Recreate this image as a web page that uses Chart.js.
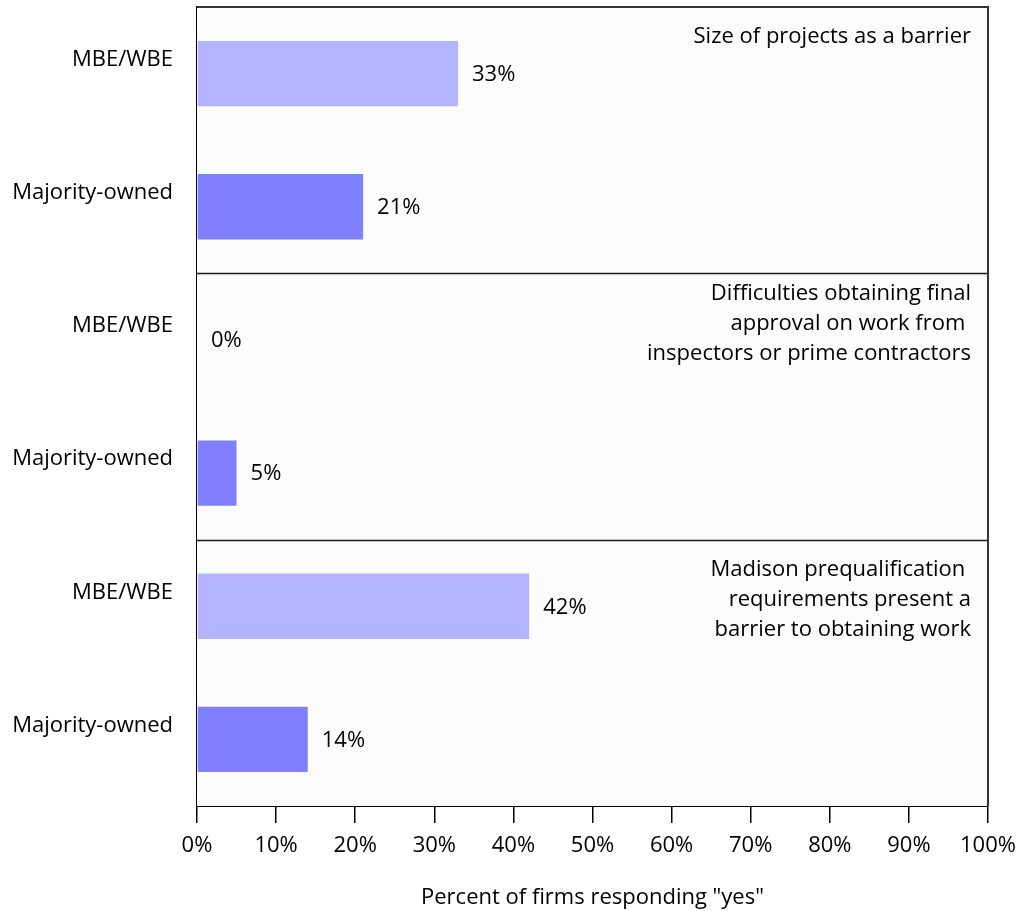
<!DOCTYPE html>
<html>
<head>
<meta charset="utf-8">
<script src="https://cdn.jsdelivr.net/npm/chart.js@4"></script>
<style>
  html, body { margin: 0; padding: 0; background: #ffffff; }
  #wrap { width: 1022px; height: 911px; }
</style>
</head>
<body>
<div id="wrap"><canvas id="c" width="1022" height="911"></canvas></div>
<script>
// Survey responses: share of firms answering "yes", by barrier and firm ownership
const categories = ['MBE/WBE', 'Majority-owned', 'MBE/WBE', 'Majority-owned', 'MBE/WBE', 'Majority-owned'];
const values = [33, 21, 0, 5, 42, 14];
const panelTitles = [
  ['Size of projects as a barrier'],
  ['Difficulties obtaining final', 'approval on work from ', 'inspectors or prime contractors'],
  ['Madison prequalification ', 'requirements present a', 'barrier to obtaining work']
];
const xTicks = [0, 10, 20, 30, 40, 50, 60, 70, 80, 90, 100];
const axisTitle = 'Percent of firms responding "yes"';

const FONT = '"Open Sans", Lato, sans-serif';
const FSIZE = 22;
const barColors = categories.map(c => c === 'MBE/WBE' ? '#b3b3ff' : '#8080ff');

// Fills the plot area, draws panel dividers, frame, value labels and panel titles
const panelPlugin = {
  id: 'panels',
  beforeDatasetsDraw(chart) {
    const { ctx, chartArea: a } = chart;
    ctx.save();
    ctx.fillStyle = '#fcfcfc';
    ctx.fillRect(a.left, a.top, a.right - a.left, a.bottom - a.top);
    ctx.restore();
  },
  afterDatasetsDraw(chart) {
    const { ctx, chartArea: a } = chart;
    const y = chart.scales.y;
    ctx.save();
    // dividers between the three question panels
    ctx.strokeStyle = '#1a1a1a';
    ctx.lineWidth = 1.5;
    [2, 4].forEach(i => {
      const py = Math.round((y.getPixelForValue(i - 1) + y.getPixelForValue(i)) / 2) + 0.5;
      ctx.beginPath();
      ctx.moveTo(a.left, py);
      ctx.lineTo(a.right, py);
      ctx.stroke();
    });
    // top and right frame
    ctx.strokeStyle = '#333333';
    ctx.lineWidth = 2;
    ctx.beginPath();
    ctx.moveTo(a.left, a.top);
    ctx.lineTo(a.right, a.top);
    ctx.lineTo(a.right, a.bottom);
    ctx.stroke();

    // value labels to the right of each bar
    ctx.fillStyle = '#000000';
    ctx.font = FSIZE + 'px ' + FONT;
    ctx.textAlign = 'left';
    ctx.textBaseline = 'middle';
    const meta = chart.getDatasetMeta(0);
    meta.data.forEach((bar, i) => {
      ctx.fillText(values[i] + '%', bar.x + 14, bar.y + 1);
    });

    // panel titles, right-aligned in each panel's top-right corner
    ctx.textAlign = 'right';
    const step = (y.getPixelForValue(1) - y.getPixelForValue(0));
    const firstLine = [30, 20, 30];
    panelTitles.forEach((lines, p) => {
      const top = y.getPixelForValue(p * 2) - step / 2;
      lines.forEach((t, k) => {
        ctx.fillText(t, a.right - 17, top + firstLine[p] + k * 30);
      });
    });
    ctx.restore();
  }
};

new Chart(document.getElementById('c'), {
  type: 'bar',
  data: {
    labels: categories,
    datasets: [{
      data: values,
      backgroundColor: barColors,
      borderWidth: 0,
      barPercentage: 0.49,
      categoryPercentage: 1.0
    }]
  },
  options: {
    indexAxis: 'y',
    responsive: false,
    animation: false,
    devicePixelRatio: 1,
    layout: { padding: { top: 7, right: 34, left: 0, bottom: 0 } },
    plugins: {
      legend: { display: false },
      tooltip: { enabled: false }
    },
    scales: {
      x: {
        min: 0,
        max: 100,
        afterBuildTicks(scale) { scale.ticks = xTicks.map(v => ({ value: v })); },
        afterFit(scale) { scale.height = 105; scale.paddingLeft = 0; scale.paddingRight = 0; },
        ticks: {
          callback: v => v + '%',
          color: '#000000',
          font: { family: FONT, size: FSIZE },
          padding: 10,
          maxRotation: 0
        },
        grid: {
          drawOnChartArea: false,
          drawTicks: true,
          tickLength: 17,
          color: '#000000',
          lineWidth: 1.5
        },
        border: { color: '#000000', width: 2 },
        title: {
          display: true,
          text: axisTitle,
          color: '#000000',
          font: { family: FONT, size: FSIZE },
          padding: { top: 12, bottom: 0 }
        }
      },
      y: {
        afterFit(scale) { scale.width = 197; scale.paddingTop = 0; scale.paddingBottom = 0; },
        ticks: {
          color: '#000000',
          font: { family: FONT, size: FSIZE },
          padding: 24,
          labelOffset: -14
        },
        grid: { display: false, drawTicks: false },
        border: { color: '#000000', width: 2 }
      }
    }
  },
  plugins: [panelPlugin]
});
</script>
</body>
</html>
